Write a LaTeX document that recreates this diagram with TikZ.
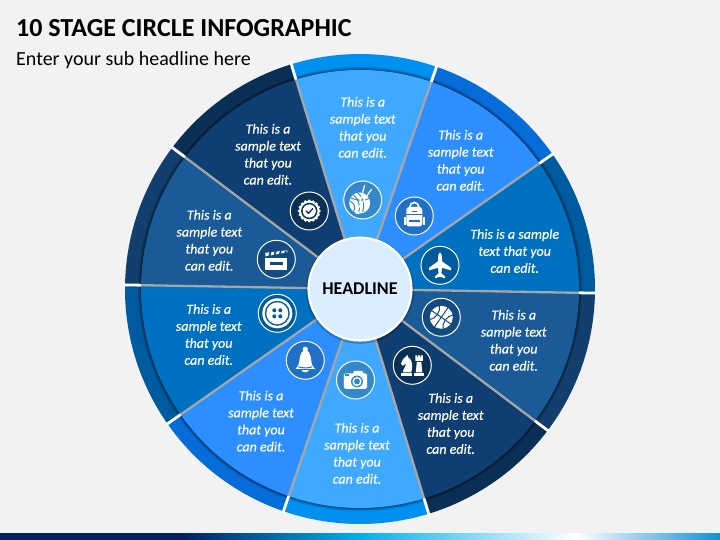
\documentclass[tikz,border=0pt]{standalone}
\usepackage{fontspec}
\setmainfont{Carlito}
\newfontfamily\txtfont[ItalicFeatures={FakeBold=0.35}]{Carlito}
\definecolor{bgc}{HTML}{F2F2F2}
\definecolor{inA}{HTML}{3FA9FF}\definecolor{rimA}{HTML}{0090F0}\definecolor{icA}{HTML}{3388CC}
\definecolor{inB}{HTML}{2C8EFF}\definecolor{rimB}{HTML}{066CD8}\definecolor{icB}{HTML}{2070C8}
\definecolor{inC}{HTML}{0070C0}\definecolor{rimC}{HTML}{005A9E}\definecolor{icC}{HTML}{005A9E}
\definecolor{inD}{HTML}{1A5A96}\definecolor{rimD}{HTML}{123F6E}\definecolor{icD}{HTML}{134A80}
\definecolor{inE}{HTML}{0F3F72}\definecolor{rimE}{HTML}{0A2F55}\definecolor{icE}{HTML}{0A2F55}
\definecolor{hubc}{HTML}{DAEEFF}\definecolor{spokec}{HTML}{A6A6A6}
\definecolor{barA}{HTML}{002060}\definecolor{barB}{HTML}{00B0F0}\definecolor{barD}{HTML}{1090D8}
\pgfdeclarehorizontalshading{barshade}{100bp}{color(0bp)=(barA);color(37.5bp)=(barA);color(50bp)=(barB);color(65bp)=(white);color(75bp)=(barD);color(100bp)=(barD)}
\tikzset{
 x=1pt,y=1pt,
 txt/.style={text=white,align=center,font=\fontsize{14}{17}\selectfont\txtfont\itshape,inner sep=0pt,yshift=0.7pt},
 ring/.style={circle,draw=white,line width=1pt,minimum size=38pt,inner sep=0pt},
 hole/.style={draw=ringc,line width=1pt},
}
\newcommand{\icoKnit}{
 \fill[white] (-3,-3) circle (10.5);
 \draw[hole] (-9,5) .. controls (-4,1) and (-2,-6) .. (-4,-13);
 \draw[hole] (-5,7) .. controls (1,2) and (2,-5) .. (0,-12);
 \draw[hole] (-13,-1) .. controls (-8,-3) and (-7,-8) .. (-9,-11);
 \draw[hole] (-12,2) .. controls (-4,-1) and (3,-1) .. (7,2);
 \draw[white,line width=1.2pt] (-7,-12) -- (9,11);
 \draw[white,line width=1.2pt] (-3,-3) -- (2,15);
 \fill[white] (-7,-14) -- (-3,-14) -- (-6,-9) -- cycle;
}
\newcommand{\icoPack}{
 \draw[white,line width=1.6pt] (-4.5,8) -- (-4.5,9) arc[start angle=180,end angle=0,radius=4.5] -- (4.5,8);
 \fill[white,rounded corners=3pt] (-8,-10.5) rectangle (8,9);
 \fill[white] (-10.5,-9.5) rectangle (-8.5,-1);
 \fill[white] (8.5,-9.5) rectangle (10.5,-1);
 \fill[ringc] (-8,0.5) rectangle (8,1.5);
 \fill[ringc] (-5.5,-6.5) rectangle (5.5,-4);
 \fill[ringc] (-2.5,4) rectangle (2.5,5);
}
\newcommand{\icoPlane}{
 \fill[white] (0,13) .. controls (1.6,12) and (2,9.5) .. (2,6) -- (2,4) -- (11,-2.5) -- (11,-5) -- (2,-2.5)
  -- (1.4,-8) -- (5,-11) -- (5,-13) -- (0,-11.5) -- (-5,-13) -- (-5,-11) -- (-1.4,-8) -- (-2,-2.5)
  -- (-11,-5) -- (-11,-2.5) -- (-2,4) -- (-2,6) .. controls (-2,9.5) and (-1.6,12) .. (0,13) -- cycle;
}
\newcommand{\icoBadge}{
 \fill[white] (0,0) circle (10.3);
 \foreach \k in {0,22.5,...,337.5}{\fill[white] (\k:10) circle (1.6);}
 \fill[ringc] (0,0) circle (8.2);
 \fill[white] (0,0) circle (6.6);
 \draw[ringc,line width=1.3pt,line cap=round,line join=round] (-3.2,0) -- (-0.8,-2.4) -- (3.4,2.4);
}
\newcommand{\icoClap}{
 \fill[white] (-11,-11) rectangle (11,1.5);
 \fill[ringc] (-6.5,-5.5) rectangle (6.5,-2.5);
 \fill[white] (-11,3) -- (11,7) -- (11,9) -- (-11,6.5) -- cycle;
 \foreach \k in {-8,-3,2,7}{\fill[ringc] (\k,3) -- (\k+2,3.4) -- (\k+3.5,8.5) -- (\k+1.5,8.2) -- cycle;}
}
\newcommand{\icoButton}{
 \fill[white] (0,0) circle (15);
 \fill[ringc] (0,0) circle (12.5);
 \fill[white] (0,0) circle (11);
 \foreach \p/\q in {-3/3,3/3,-3/-3,3/-3}{\fill[ringc] (\p,\q) circle (2);}
}
\newcommand{\icoBell}{
 \fill[white] (0,11) circle (2.6);
 \fill[white] (-7,-5) .. controls (-5,-1) and (-7,9) .. (0,10) .. controls (7,9) and (5,-1) .. (7,-5) .. controls (8,-7) and (10,-8) .. (10,-9) -- (-10,-9) .. controls (-10,-8) and (-8,-7) .. (-7,-5) -- cycle;
 \draw[hole] (-7,-6.5) .. controls (-3,-8) and (3,-8) .. (7,-6.5);
 \fill[white] (-4,-9) arc[start angle=180,end angle=360,x radius=4,y radius=3] -- cycle;
 \fill[ringc] (-10,-9.2) rectangle (10,-8.6);
}
\newcommand{\icoCamera}{
 \fill[white,rounded corners=1.5pt] (-11.5,-9) rectangle (11.5,6.5);
 \fill[white] (-3,5) -- (-1.5,9) -- (7,9) -- (8.5,5) -- cycle;
 \fill[ringc] (-10,3.5) rectangle (-6,5.5);
 \fill[ringc] (1.5,-1.5) circle (6);
 \fill[white] (1.5,-1.5) circle (4.6);
 \fill[ringc] (1.5,-1.5) circle (3);
}
\newcommand{\icoChess}{
 \fill[white] (-11,-10.5) rectangle (0,-7.5);
 \fill[white] (-9.5,-7) -- (-1,-7) .. controls (0.5,-1) and (0.5,5) .. (-4,8) -- (-5,10.5) -- (-6.5,8.5) .. controls (-9,7.5) and (-10.5,4) .. (-11.5,1.5) -- (-9.5,-0.5) -- (-6,2) .. controls (-6,-1) and (-9,-3) .. (-9.5,-7) -- cycle;
 \fill[white] (2,-10.5) rectangle (11.5,-7.5);
 \fill[white] (3.5,-7) -- (10,-7) -- (9,3.5) -- (4.5,3.5) -- cycle;
 \fill[white] (3,4.5) -- (10.5,4.5) -- (10.5,10) -- (8.5,10) -- (8.5,8) -- (7.7,8) -- (7.7,10) -- (5.8,10) -- (5.8,8) -- (5,8) -- (5,10) -- (3,10) -- cycle;
}
\newcommand{\icoBall}{
 \fill[white] (0,0) circle (11.5);
 \begin{scope}[rotate=-35]
  \clip (0,0) circle (11.5);
  \draw[ringc,line width=1pt] (-12,0) -- (12,0);
  \draw[ringc,line width=1pt] (0,-12) -- (0,12);
  \draw[ringc,line width=1pt] (-8.5,-9) .. controls (-3.5,-4) and (-3.5,4) .. (-8.5,9);
  \draw[ringc,line width=1pt] (8.5,-9) .. controls (3.5,-4) and (3.5,4) .. (8.5,9);
 \end{scope}
}
\newcommand{\putIcon}[5]{% name, x, y, colour, glyph
 \node[ring,fill=#4] (#1) at (#2,#3) {};
 \begin{scope}[shift={(#2,#3)}]\colorlet{ringc}{#4}#5\end{scope}
}
\begin{document}
\begin{tikzpicture}[x=1pt,y=1pt]
\useasboundingbox (-360,-251) rectangle (360,289);
\fill[bgc] (-360,-251) rectangle (360,289);
% bottom bar
\shade[shading=barshade] (-360,-251) rectangle (360,-245);
% rim sectors
\foreach \a/\rc in {107/rimA,71/rimB,35/rimC,-1/rimD,-37/rimE,-73/rimA,-109/rimB,-145/rimC,179/rimD,143/rimE}{
 \fill[\rc] (0,0) -- (\a:235) arc[start angle=\a,delta angle=-36,radius=235] -- cycle;
}
% soft shadow of the inner discs on the rim
\foreach \w/\o in {6.5/.08,5/.10,3.5/.14,2/.18}{
 \draw[black,opacity=\o,line width=\w pt] (0,0) circle (219);
}
% inner sectors
\foreach \a/\ic in {107/inA,71/inB,35/inC,-1/inD,-37/inE,-73/inA,-109/inB,-145/inC,179/inD,143/inE}{
 \fill[\ic] (0,0) -- (\a:219) arc[start angle=\a,delta angle=-36,radius=219] -- cycle;
}
% spokes
\foreach \a in {107,71,35,-1,-37,-73,-109,-145,179,143}{
 \draw[spokec,line width=2.3pt] (\a:50) -- (\a:219);
 \draw[white,line width=2.8pt] (\a:219) -- (\a:236.5);
}
% hub
\fill[black,opacity=.2] (0,-1) circle (54);
\node[circle,fill=hubc,draw=white,line width=2.2pt,minimum size=103pt,inner sep=0pt,font=\fontsize{18}{20}\selectfont\bfseries] (hub) at (0,0) {\raisebox{-0.8pt}{HEADLINE}};
% icons
\putIcon{knit}{2.7}{89}{icA}{\icoKnit}
\putIcon{pack}{54.3}{73}{icB}{\icoPack}
\putIcon{plane}{80}{23.7}{icC}{\icoPlane}
\putIcon{ball}{81.3}{-28.3}{icD}{\icoBall}
\putIcon{chess}{52.3}{-76.3}{icE}{\icoChess}
\putIcon{camera}{-4.5}{-91}{icA}{\icoCamera}
\putIcon{bell}{-54.7}{-71.3}{icB}{\icoBell}
\putIcon{button}{-82.7}{-24.3}{icC}{\icoButton}
\putIcon{clap}{-83.7}{29.7}{icD}{\icoClap}
\putIcon{badge}{-50.7}{78}{icE}{\icoBadge}
% texts
\node[txt] (t1) at (2.7,161) {This is a\\sample text\\that you\\can edit.};
\node[txt] (t2) at (100.7,128) {This is a\\sample text\\that you\\can edit.};
\node[txt] (t3) at (154.7,37.3) {This is a sample\\text that you\\can edit.};
\node[txt] (t4) at (153.7,-52) {This is a\\sample text\\that you\\can edit.};
\node[txt] (t5) at (90.7,-135.2) {This is a\\sample text\\that you\\can edit.};
\node[txt] (t6) at (-3,-165) {This is a\\sample text\\that you\\can edit.};
\node[txt] (t7) at (-99,-132.8) {This is a\\sample text\\that you\\can edit.};
\node[txt] (t8) at (-151.3,-46.2) {This is a\\sample text\\that you\\can edit.};
\node[txt] (t9) at (-150.7,48) {This is a\\sample text\\that you\\can edit.};
\node[txt] (t10) at (-92,134) {This is a\\sample text\\that you\\can edit.};
% headings
\node[anchor=base west,inner sep=0pt,font=\fontsize{26}{30}\selectfont\bfseries] (title) at (-344,252) {10 STAGE CIRCLE INFOGRAPHIC};
\node[anchor=base west,inner sep=0pt,font=\fontsize{20}{24}\selectfont] (sub) at (-344,223) {Enter your sub headline here};
\end{tikzpicture}
\end{document}
